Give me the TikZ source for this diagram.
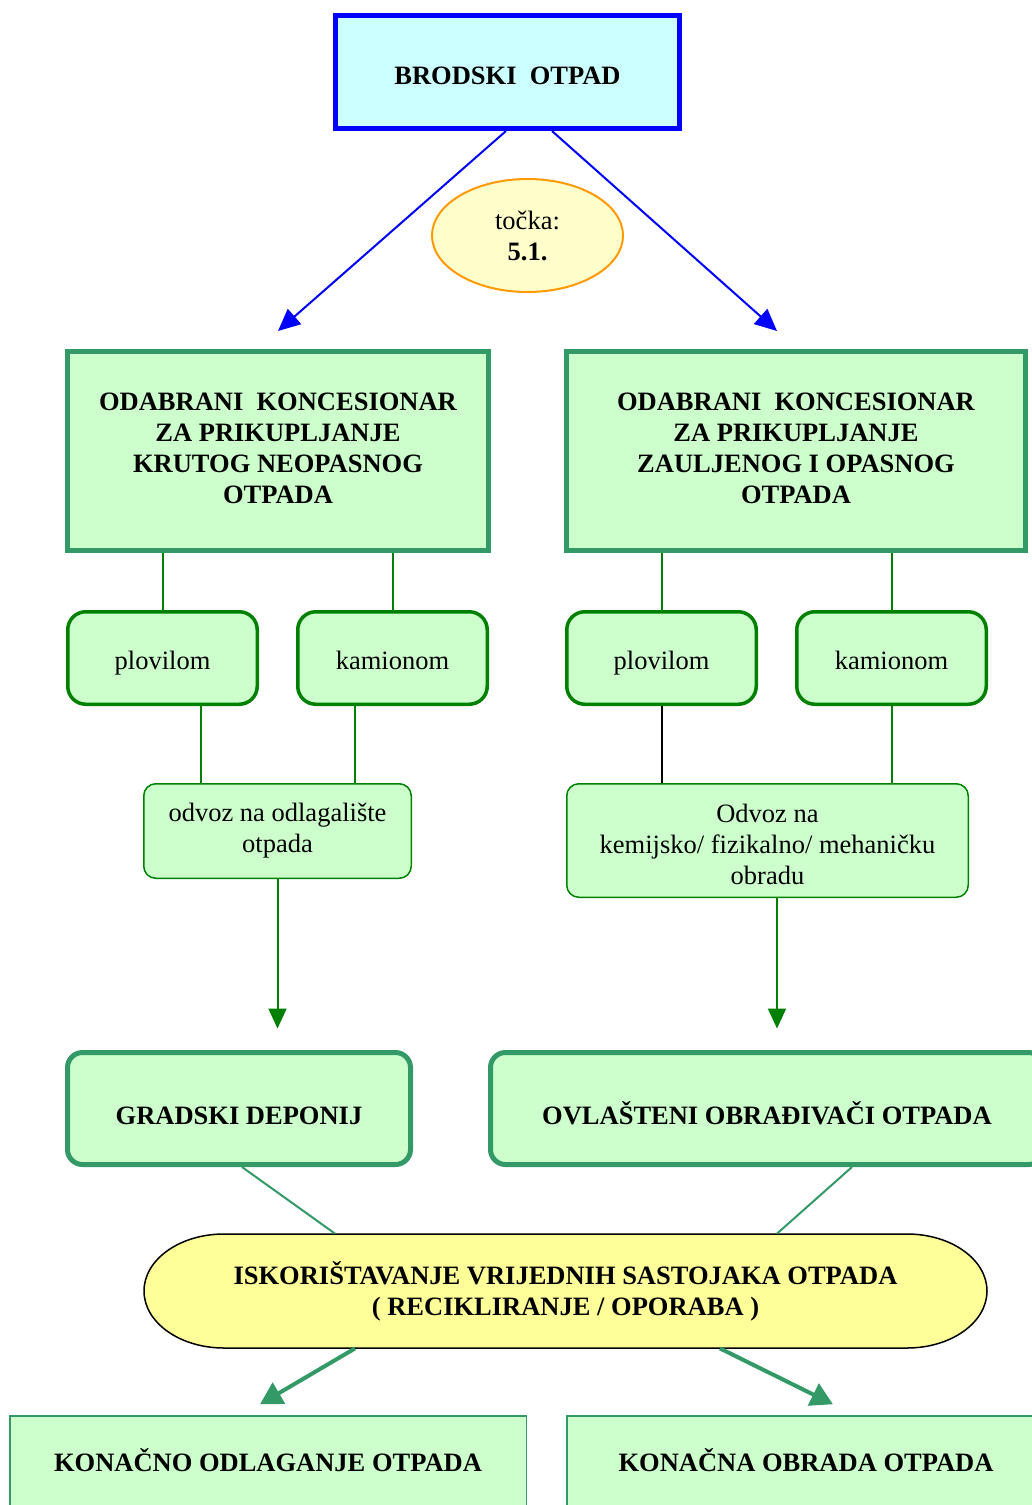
\documentclass[tikz,border=0pt]{standalone}
\usepackage{fontspec}
\setmainfont{Liberation Serif}
\usetikzlibrary{arrows.meta,shapes.geometric}
\definecolor{cyanfill}{HTML}{CCFFFF}
\definecolor{greenfill}{HTML}{CCFFCC}
\definecolor{seagreen}{HTML}{339966}
\definecolor{dgreen}{HTML}{008000}
\definecolor{orangeb}{HTML}{FF9900}
\definecolor{lyellow}{HTML}{FFFFCC}
\definecolor{stadyellow}{HTML}{FFFF99}
\tikzset{
  topbox/.style={draw=blue, fill=cyanfill, line width=2.5pt, minimum width=172pt, minimum height=56.5pt, inner sep=0pt, font=\bfseries, text height=12.2pt, text depth=0.2pt},
  bigbox/.style={draw=seagreen, fill=greenfill, line width=2.5pt, minimum height=99.5pt, inner sep=0pt, align=center, font=\bfseries},
  smallbox/.style={draw=dgreen, fill=greenfill, line width=1.75pt, rounded corners=9pt, minimum width=94.75pt, minimum height=46.25pt, inner sep=0pt, text height=12pt, text depth=1pt},
  odvozbox/.style={draw=dgreen, fill=greenfill, line width=0.75pt, rounded corners=6pt, inner sep=0pt, align=center},
  destbox/.style={draw=seagreen, fill=greenfill, line width=2.5pt, rounded corners=7.5pt, minimum height=56pt, inner sep=0pt, font=\bfseries, text height=15.7pt, text depth=0.2pt},
  finalbox/.style={draw=seagreen, fill=greenfill, line width=0.75pt, minimum height=47pt, inner sep=0pt, font=\bfseries, text height=8.2pt, text depth=0.2pt},
  bluearrow/.style={draw=blue, line width=1pt, -{Triangle[length=11pt,width=10pt]}},
  greenarrow/.style={draw=dgreen, line width=1pt, -{Triangle[length=10pt,width=9pt]}},
  sgarrow/.style={draw=seagreen, line width=2pt, -{Triangle[length=11pt,width=12pt]}},
  gline/.style={draw=dgreen, line width=1pt},
  sgline/.style={draw=seagreen, line width=1pt},
}
\begin{document}
\begin{tikzpicture}[x=0.5pt,y=-0.5pt]
\fontsize{13.25pt}{15.5pt}\selectfont
\useasboundingbox (0,0) rectangle (1032,1505);
\clip (0,0) rectangle (1032,1505);

% top
\node[topbox] (top) at (507.5,72) {BRODSKI\ \ OTPAD};
\node[ellipse, draw=orangeb, fill=lyellow, line width=1pt, minimum width=95.5pt, minimum height=56.5pt, inner sep=0pt, align=center] (tocka) at (527.5,235.5) {točka:\\\textbf{5.1.}};

% big boxes
\node[bigbox, minimum width=210.5pt] (bigL) at (278,451) {ODABRANI\ \ KONCESIONAR\\ZA PRIKUPLJANJE\\KRUTOG NEOPASNOG\\OTPADA\rule[-3pt]{0pt}{0pt}};
\node[bigbox, minimum width=229.5pt] (bigR) at (796,451) {ODABRANI\ \ KONCESIONAR\\ZA PRIKUPLJANJE\\ZAULJENOG I OPASNOG\\OTPADA\rule[-3pt]{0pt}{0pt}};

\draw[bluearrow] ([xshift=-0.75pt]top.south) -- ([yshift=9pt]bigL.north);
\draw[bluearrow] ([xshift=22.25pt]top.south) -- ([xshift=-9.5pt,yshift=9pt]bigR.north);

% small boxes
\node[smallbox] (plovL) at (162.5,658) {plovilom};
\node[smallbox] (kamL) at (392.5,658) {kamionom};
\node[smallbox] (plovR) at (661.5,658) {plovilom};
\node[smallbox] (kamR) at (891.5,658) {kamionom};

\draw[gline] (plovL.north |- bigL.south) -- (plovL.north);
\draw[gline] (kamL.north |- bigL.south) -- (kamL.north);
\draw[gline] (plovR.north |- bigR.south) -- (plovR.north);
\draw[gline] (kamR.north |- bigR.south) -- (kamR.north);

% odvoz boxes
\node[odvozbox, minimum width=133.75pt, minimum height=47.25pt] (odvL) at (277.5,831) {odvoz na odlagalište\\otpada};
\node[odvozbox, minimum width=200.75pt, minimum height=56.75pt] (odvR) at (767.5,840.5) {\rule{0pt}{13.4pt}Odvoz na\\kemijsko/ fizikalno/ mehaničku\\obradu};

\coordinate (a1) at ([xshift=19.25pt]plovL.south);
\coordinate (a2) at ([xshift=-18.75pt]kamL.south);
\draw[gline] (a1) -- (a1 |- odvL.north);
\draw[gline] (a2) -- (a2 |- odvL.north);
\draw[black, line width=1pt] (plovR.south) -- (plovR.south |- odvR.north);
\draw[gline] (kamR.south) -- (kamR.south |- odvR.north);

% destination boxes
\node[destbox, minimum width=171.5pt] (grad) at (239,1108.5) {GRADSKI DEPONIJ};
\node[destbox, minimum width=276.5pt] (ovl) at (767,1108.5) {OVLAŠTENI OBRAĐIVAČI OTPADA};

\draw[greenarrow, shorten >=10.75pt] (odvL.south) -- (odvL.south |- grad.north);
\coordinate (b1) at ([xshift=4.75pt]odvR.south);
\draw[greenarrow, shorten >=10.75pt] (b1) -- (b1 |- ovl.north);

% stadium
\node[minimum width=421.5pt, minimum height=57pt, inner sep=0pt] (isk) at (565.5,1291) {};
\draw[black, fill=stadyellow, line width=0.75pt]
  (224,1234) -- (907,1234) arc[start angle=-90, end angle=90, x radius=80, y radius=57]
  -- (224,1348) arc[start angle=90, end angle=270, x radius=80, y radius=57] -- cycle;
\node[align=center, font=\bfseries, inner sep=0pt] (isktext) at (isk.center) {ISKORIŠTAVANJE VRIJEDNIH SASTOJAKA OTPADA\\( RECIKLIRANJE / OPORABA )};

\draw[sgline] ([xshift=1.5pt]grad.south) -- ([xshift=-115.25pt]isk.north);
\draw[sgline] ([xshift=42.5pt]ovl.south) -- ([xshift=105.75pt]isk.north);

% final boxes
\node[finalbox, minimum width=258.25pt] (konL) at (268,1463) {KONAČNO ODLAGANJE OTPADA};
\node[finalbox, minimum width=239.25pt] (konR) at (806,1463) {KONAČNA OBRADA OTPADA};

\draw[sgarrow] ([xshift=-105.25pt]isk.south) -- ([xshift=-4pt,yshift=5.5pt]konL.north);
\draw[sgarrow] ([xshift=77.25pt]isk.south) -- ([xshift=13.5pt,yshift=5.5pt]konR.north);
\end{tikzpicture}
\end{document}
